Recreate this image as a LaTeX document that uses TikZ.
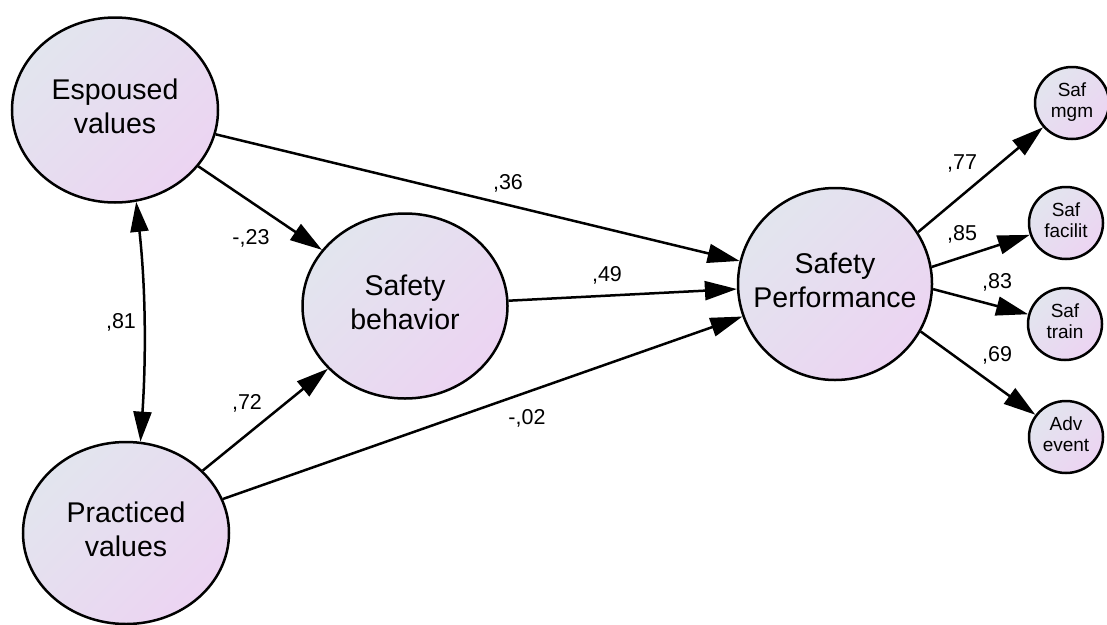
\documentclass[tikz,border=0pt]{standalone}
\usepackage{fontspec}
\setmainfont{Liberation Sans}
\usetikzlibrary{shapes.geometric,arrows.meta}
\definecolor{shadeA}{RGB}{226,229,238}
\definecolor{shadeB}{RGB}{236,212,242}
% two centred lines that do not widen the ellipse around them
\newcommand{\lblpair}[2]{\makebox[0pt]{\begin{tabular}{@{}c@{}}#1\\#2\end{tabular}}}

\begin{document}
\begin{tikzpicture}[x=1pt,y=-1pt,
  latent/.style={ellipse, draw=black, line width=2.5pt, inner sep=0pt,
    top color=shadeA, bottom color=shadeB, shading angle=45,
    font=\fontsize{28.5}{34}\selectfont},
  small/.style={latent, minimum width=74pt, minimum height=72pt,
    font=\fontsize{19}{21}\selectfont},
  link/.style={line width=2.5pt, -{Triangle[length=32pt,width=19pt]}},
  twoway/.style={line width=2.5pt,
    {Triangle[length=30pt,width=18pt]}-{Triangle[length=30pt,width=18pt]}},
  coef/.style={font=\fontsize{21.5}{24}\selectfont, inner sep=0pt}
]
\useasboundingbox (0,0) rectangle (1107,624);

% latent variables
\node[latent, minimum width=206pt, minimum height=185pt] (esp) at (115,110) {\lblpair{Espoused}{values}};
\node[latent, minimum width=206pt, minimum height=182pt] (prac) at (126,533) {\lblpair{Practiced}{values}};
\node[latent, minimum width=205pt, minimum height=185pt] (sb) at (405,306) {\lblpair{Safety}{behavior}};
\node[latent, minimum width=194pt, minimum height=192pt] (sp) at (835,284) {\lblpair{Safety}{Performance}};

% indicators
\node[small] (mgm) at (1072,103) {\lblpair{Saf}{mgm}};
\node[small] (fac) at (1066,223) {\lblpair{Saf}{facilit}};
\node[small] (trn) at (1065,324) {\lblpair{Saf}{train}};
\node[small] (adv) at (1066,437) {\lblpair{Adv}{event}};

% structural paths
\draw[link] (esp) -- (sb);
\draw[link] (esp) -- (sp);
\draw[link] (sb) -- (sp);
\draw[link] (prac) -- (sb);
\draw[link] (prac) -- (sp);
\draw[twoway] (esp.-77) .. controls (146,290) and (146,360) .. (prac.81);

% measurement paths
\draw[link] (sp.32) -- (mgm);
\draw[link] (sp.10) -- (fac);
\draw[link] (sp.-3.5) -- (trn);
\draw[link] (sp.-29) -- (adv);

% coefficients
\node[coef] (c23) at (251,238) {-,23};
\node[coef] (c36) at (508,183) {,36};
\node[coef] (c49) at (607,275) {,49};
\node[coef] (c02) at (527,418) {-,02};
\node[coef] (c72) at (247,403) {,72};
\node[coef] (c81) at (121,322) {,81};
\node[coef] (c77) at (962,163) {,77};
\node[coef] (c85) at (962,234) {,85};
\node[coef] (c83) at (997,282) {,83};
\node[coef] (c69) at (997,355) {,69};
\end{tikzpicture}
\end{document}
